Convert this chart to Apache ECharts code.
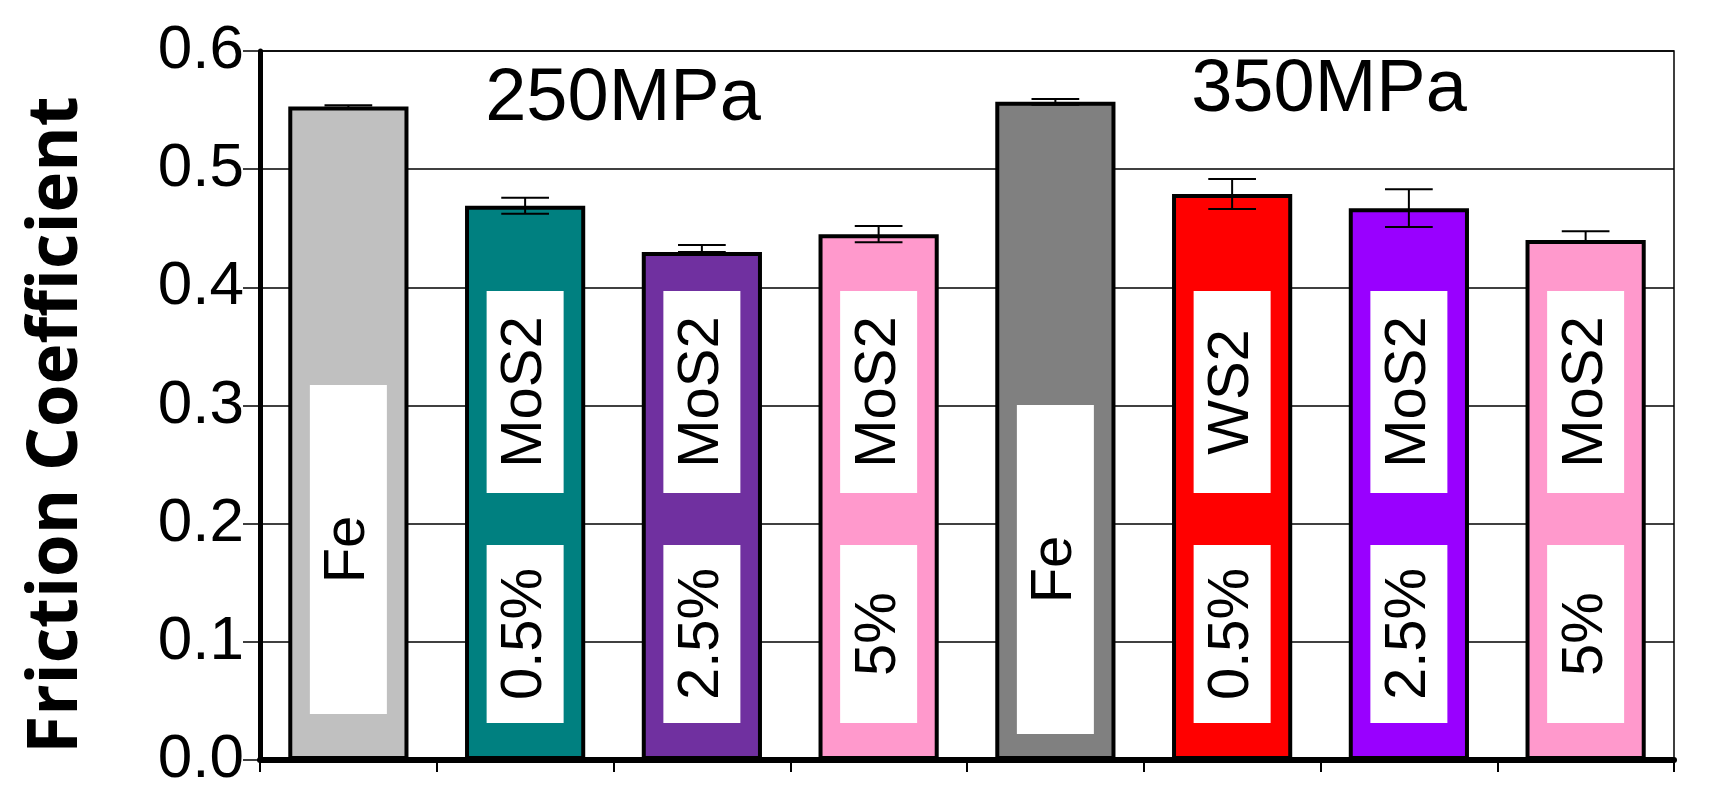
<!DOCTYPE html>
<html>
<head>
<meta charset="utf-8">
<script src="https://cdn.jsdelivr.net/npm/echarts@6/dist/echarts.min.js"></script>
<style>
html,body{margin:0;padding:0;background:#fff;}
#chart{width:1710px;height:805px;}
</style>
</head>
<body>
<div id="chart"></div>
<script>
// ---- data ----
const categories = ['Fe-250', 'MoS2 0.5%-250', 'MoS2 2.5%-250', 'MoS2 5%-250', 'Fe-350', 'WS2 0.5%-350', 'MoS2 2.5%-350', 'MoS2 5%-350'];
const upperLabels = ['', 'MoS2', 'MoS2', 'MoS2', '', 'WS2', 'MoS2', 'MoS2'];
const lowerLabels = ['Fe', '0.5%', '2.5%', '5%', 'Fe', '0.5%', '2.5%', '5%'];
const friction = [0.553, 0.469, 0.430, 0.445, 0.557, 0.479, 0.467, 0.440];
const errPlus  = [0.001, 0.0068, 0.0059, 0.0069, 0.0024, 0.0127, 0.016, 0.0074];
const errMinus = [0.001, 0.0068, 0.0, 0.0069, 0.0024, 0.0127, 0.016, 0.0023];
const pressureLabels = ['250MPa', '350MPa'];
const yTicks = ['0.0', '0.1', '0.2', '0.3', '0.4', '0.5', '0.6'];
const yAxisTitle = 'Friction Coefficient';

// ---- styles ----
const barColors = ['#C0C0C0', '#008080', '#7030A0', '#FF99CC', '#808080', '#FF0000', '#9900FF', '#FF99CC'];
const FONT = '"Liberation Sans", Arial, sans-serif';

function boxRich(width) {
  return {
    box: {
      width: width, height: 77, lineHeight: 77,
      align: 'center', verticalAlign: 'middle',
      backgroundColor: '#ffffff', color: '#000',
      fontSize: 58, fontFamily: FONT
    }
  };
}

const mainData = friction.map((v, i) => {
  const isFe = lowerLabels[i] === 'Fe';
  return {
    value: v,
    itemStyle: { color: barColors[i] },
    label: {
      distance: isFe ? (i < 4 ? 46 : 26) : 37,
      rich: boxRich(isFe ? 329 : 178)
    }
  };
});

const overlayData = friction.map((v, i) => ({
  value: v,
  label: { show: upperLabels[i] !== '' }
}));

const errData = friction.map((v, i) => [i, v, errPlus[i], errMinus[i]]);

const chart = echarts.init(document.getElementById('chart'), null, { renderer: 'canvas' });

const option = {
  backgroundColor: '#ffffff',
  animation: false,
  grid: {
    left: 260, right: 36, top: 51, bottom: 45,
    show: true, borderColor: '#000', borderWidth: 1.5, backgroundColor: 'transparent'
  },
  xAxis: {
    type: 'category',
    data: categories,
    axisLine: { show: true, lineStyle: { color: '#000', width: 6 } },
    axisTick: { show: true, length: 12, lineStyle: { color: '#000', width: 2 } },
    axisLabel: { show: false },
    splitLine: { show: false }
  },
  yAxis: {
    type: 'value',
    min: 0, max: 0.6, interval: 0.1,
    axisLine: { show: true, lineStyle: { color: '#000', width: 5 } },
    axisTick: { show: true, length: 17, lineStyle: { color: '#000', width: 1.5 } },
    axisLabel: {
      margin: 16,
      color: '#000', fontSize: 62, fontFamily: FONT,
      formatter: (val) => yTicks[Math.round(val * 10)]
    },
    splitLine: { show: true, lineStyle: { color: '#000', width: 1.5 } }
  },
  graphic: [
    {
      type: 'text', x: 57, y: 425, rotation: Math.PI / 2,
      style: {
        text: yAxisTitle, fill: '#000',
        font: 'bold 69px "Open Sans", sans-serif',
        textAlign: 'center', textVerticalAlign: 'middle'
      }
    },
    {
      type: 'text', x: 623, y: 100,
      style: {
        text: pressureLabels[0], fill: '#000',
        font: '74px "Liberation Sans", Arial, sans-serif',
        textAlign: 'center', textVerticalAlign: 'middle'
      }
    },
    {
      type: 'text', x: 1329, y: 91,
      style: {
        text: pressureLabels[1], fill: '#000',
        font: '74px "Liberation Sans", Arial, sans-serif',
        textAlign: 'center', textVerticalAlign: 'middle'
      }
    }
  ],
  series: [
    {
      type: 'bar',
      data: mainData,
      barCategoryGap: '32%',
      barGap: '-100%',
      itemStyle: { borderColor: '#000', borderWidth: 4 },
      label: {
        show: true,
        position: 'insideBottom',
        rotate: 90,
        align: 'left',
        verticalAlign: 'middle',
        formatter: (p) => '{box|' + lowerLabels[p.dataIndex] + '}'
      },
      z: 2
    },
    {
      type: 'bar',
      data: overlayData,
      barCategoryGap: '32%',
      barGap: '-100%',
      silent: true,
      itemStyle: { color: 'rgba(0,0,0,0)', borderWidth: 0 },
      label: {
        position: 'insideBottom',
        rotate: 90,
        align: 'left',
        verticalAlign: 'middle',
        distance: 267,
        rich: boxRich(202),
        formatter: (p) => '{box|' + upperLabels[p.dataIndex] + '}'
      },
      z: 3
    },
    {
      type: 'custom',
      data: errData,
      z: 10,
      renderItem: function (params, api) {
        const x = api.value(0);
        const v = api.value(1);
        const hi = api.coord([x, v + api.value(2)]);
        const lo = api.coord([x, v - api.value(3)]);
        const half = api.size([1, 0])[0] * 0.135;
        const st = { stroke: '#000', lineWidth: 2 };
        return {
          type: 'group',
          children: [
            { type: 'line', shape: { x1: hi[0], y1: hi[1], x2: lo[0], y2: lo[1] }, style: st },
            { type: 'line', shape: { x1: hi[0] - half, y1: hi[1], x2: hi[0] + half, y2: hi[1] }, style: st },
            { type: 'line', shape: { x1: lo[0] - half, y1: lo[1], x2: lo[0] + half, y2: lo[1] }, style: st }
          ]
        };
      }
    }
  ]
};

chart.setOption(option);
</script>
</body>
</html>
